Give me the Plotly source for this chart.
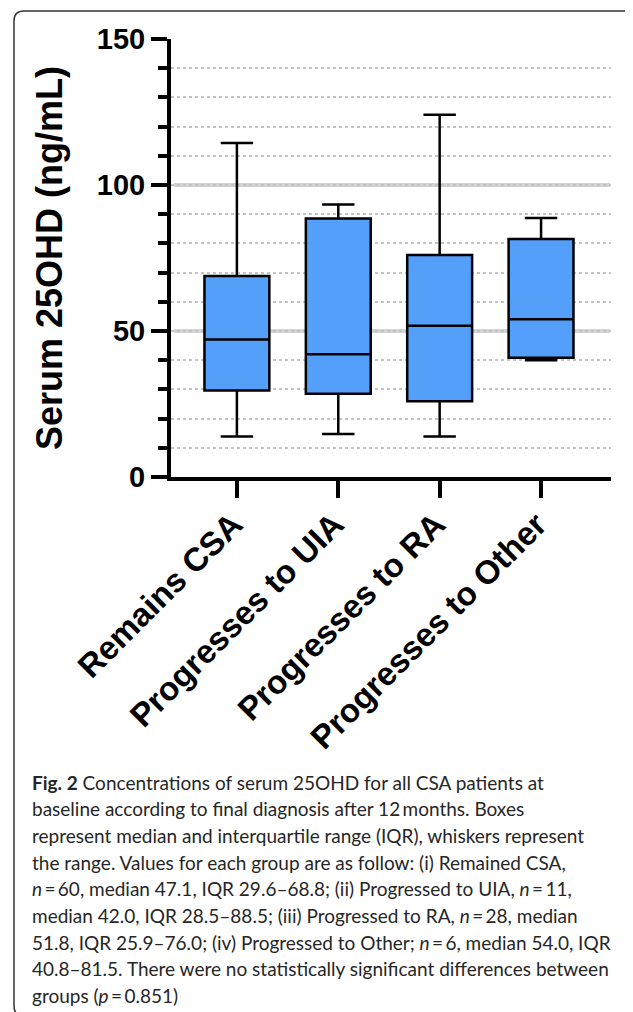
import plotly.graph_objects as go

# ---- data ----
groups = ["Remains CSA", "Progresses to UIA", "Progresses to RA", "Progresses to Other"]
q1_vals = [29.6, 28.5, 25.9, 40.8]
median_vals = [47.1, 42.0, 51.8, 54.0]
q3_vals = [68.8, 88.5, 76.0, 81.5]
min_vals = [13.9, 14.7, 13.9, 40.0]
max_vals = [114.4, 93.3, 124.1, 88.7]
y_major_ticks = [0, 50, 100, 150]
y_solid_grid = [50, 100]
y_title = "Serum 25OHD (ng/mL)"
caption_lines = [
    "<b>Fig. 2</b> Concentrations of serum 25OHD for all CSA patients at",
    "baseline according to final diagnosis after 12\u2009months. Boxes",
    "represent median and interquartile range (IQR), whiskers represent",
    "the range. Values for each group are as follow: (i) Remained CSA,",
    "<i>n</i>\u2009=\u200960, median 47.1, IQR 29.6\u201368.8; (ii) Progressed to UIA, <i>n</i>\u2009=\u200911,",
    "median 42.0, IQR 28.5\u201388.5; (iii) Progressed to RA, <i>n</i>\u2009=\u200928, median",
    "51.8, IQR 25.9\u201376.0; (iv) Progressed to Other; <i>n</i>\u2009=\u20096, median 54.0, IQR",
    "40.8\u201381.5. There were no statistically significant differences between",
    "groups (<i>p</i>\u2009=\u20090.851)",
]

# ---- layout geometry (page pixels; the page body has an 8px margin) ----
OFF = 8
PAGE_W, PAGE_H = 633, 1012
W, H = PAGE_W - OFF, PAGE_H - OFF
PLOT_L, PLOT_R, PLOT_T, PLOT_B = 171, 611, 39, 477  # page coords
L = PLOT_L - OFF
R = PAGE_W - PLOT_R
T = PLOT_T - OFF
B = PAGE_H - PLOT_B
PW = PLOT_R - PLOT_L
PH = PLOT_B - PLOT_T


def px_x(px):
    return (px - PLOT_L) / PW


def px_y(py):
    return (PLOT_B - py) / PH


fig = go.Figure()
fig.add_trace(go.Box(
    x=groups,
    q1=q1_vals,
    median=median_vals,
    q3=q3_vals,
    lowerfence=min_vals,
    upperfence=max_vals,
    fillcolor="#539ffa",
    line=dict(color="black", width=2.5),
    whiskerwidth=0.5,
    boxpoints=False,
    showlegend=False,
    hoverinfo="skip",
))

shapes = []
for v in y_solid_grid:
    shapes.append(dict(type="line", xref="paper", yref="y", x0=px_x(174), x1=px_x(610),
                       y0=v, y1=v, line=dict(color="#d2d2d2", width=4), layer="below"))

# rounded frame
x0, x1, y0, y1, r = 14, 637, 11, 1016, 10
pts = [
    ("M", x0, y0 + r), ("Q", x0, y0, x0 + r, y0), ("L", x1 - r, y0), ("Q", x1, y0, x1, y0 + r),
    ("L", x1, y1 - r), ("Q", x1, y1, x1 - r, y1), ("L", x0 + r, y1), ("Q", x0, y1, x0, y1 - r),
]
path = ""
for p in pts:
    cmd = p[0]
    coords = p[1:]
    s = []
    for i in range(0, len(coords), 2):
        s.append(f"{px_x(coords[i]):.5f},{px_y(coords[i+1]):.5f}")
    path += cmd + " ".join(s) + " "
path += "Z"
shapes.append(dict(type="path", xref="paper", yref="paper", path=path,
                   line=dict(color="#333333", width=1.5), fillcolor="rgba(0,0,0,0)"))

annotations = []
y_first, spacing = 782, 26.7
for i, line in enumerate(caption_lines):
    annotations.append(dict(
        text=line, xref="paper", yref="paper", x=px_x(30), y=px_y(y_first + i * spacing),
        xanchor="left", yanchor="middle", showarrow=False, align="left",
        font=dict(family="Lato", size=19, color="#262626"),
    ))

fig.update_layout(
    template="none",
    width=W, height=H, autosize=False,
    margin=dict(l=L, r=R, t=T, b=B, pad=0),
    paper_bgcolor="white", plot_bgcolor="white",
    boxgap=0.36, boxgroupgap=0,
    shapes=shapes,
    annotations=annotations,
    font=dict(family="Liberation Sans, Arial", color="black"),
    xaxis=dict(
        type="category", range=[-0.65, 3.69],
        showline=True, linewidth=4, linecolor="black",
        ticks="outside", ticklen=17, tickwidth=4, tickcolor="black",
        tickangle=-45, tickfont=dict(size=33, weight="bold", family="Liberation Sans, Arial"),
        ticklabelstandoff=-6, ticklabelshift=-4,
        showgrid=False, zeroline=False, automargin=False,
    ),
    yaxis=dict(
        range=[0, 150], tickvals=y_major_ticks,
        showline=True, linewidth=4, linecolor="black",
        ticks="outside", ticklen=16, tickwidth=4, tickcolor="black",
        tickfont=dict(size=29, weight="bold", family="Liberation Sans, Arial"),
        showgrid=False, zeroline=False, automargin=False,
        minor=dict(dtick=10, ticks="outside", ticklen=9, tickwidth=4, tickcolor="black",
                   showgrid=True, gridcolor="#c4c4c4", griddash="dot", gridwidth=1.5),
        title=dict(text=y_title, standoff=24,
                   font=dict(size=36, weight="bold", family="Liberation Sans, Arial")),
    ),
)

fig.write_html("out.html")
